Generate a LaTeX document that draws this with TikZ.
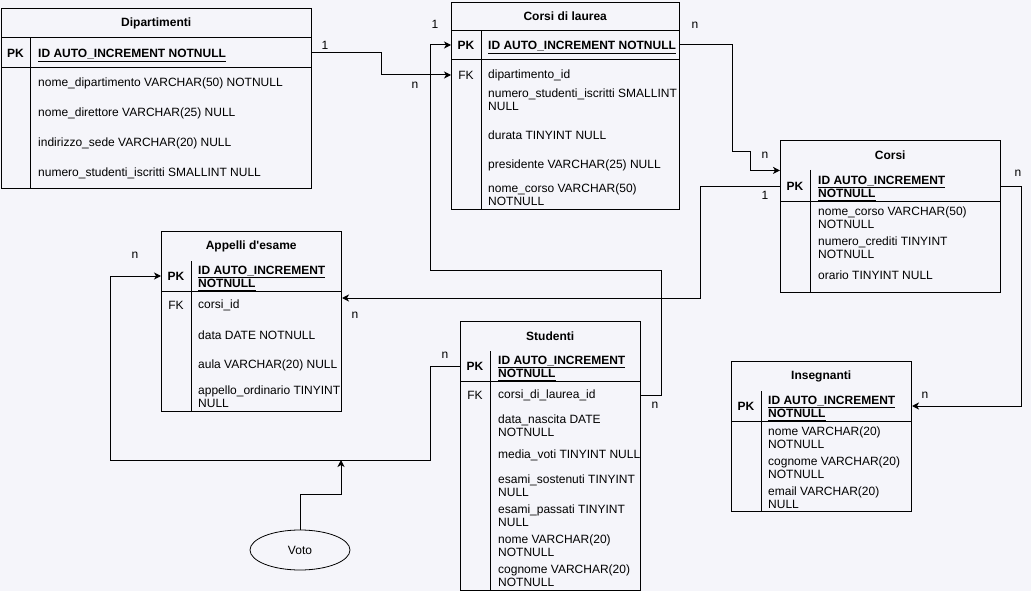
\documentclass[tikz,border=0pt]{standalone}
\usepackage{fontspec}
\setmainfont{Liberation Sans}
\usetikzlibrary{arrows.meta,shapes.geometric}
\definecolor{pagebg}{RGB}{245,245,250}
\newcommand{\ulkey}[1]{\underline{\smash{#1}\vrule height 9pt depth 1.8pt width 0pt}}
\tikzset{
  tab/.style={draw, line width=1pt, anchor=north west, inner sep=0pt},
  ttl/.style={anchor=north west, inner sep=0pt, minimum height=30, font=\bfseries\fontsize{12}{13}\selectfont},
  key/.style={inner sep=0pt, font=\fontsize{12}{13}\selectfont},
  txt/.style={anchor=west, inner sep=0pt, align=left, font=\fontsize{12}{13}\selectfont},
  pk/.style={txt, yshift=-2pt, font=\bfseries\fontsize{12}{13}\selectfont},
  card/.style={inner sep=0pt, font=\fontsize{12}{13}\selectfont},
  link/.style={line width=1pt, -{Stealth[length=7pt,width=7pt,inset=2pt]}},
  sep/.style={line width=1pt},
}
\begin{document}
\begin{tikzpicture}[x=1pt,y=-1pt]
\fill[pagebg] (0,0) rectangle (1031,591);
\useasboundingbox (0,0) rectangle (1031,591);

% Dipartimenti
\node[tab, minimum width=310, minimum height=180] (dip) at (1,8) {};
\node[ttl, minimum width=310] (dipT) at (1,8) {Dipartimenti};
\draw[sep] (1,38) -- (311,38) (1,68) -- (311,68) (30,38) -- (30,188);
\node[key, font=\bfseries\fontsize{12}{13}\selectfont] (dipK) at (15.5,53) {PK};
\node[pk] (dipPK) at (38,53) {\ulkey{ID AUTO\_INCREMENT NOTNULL}};
\foreach \y/\t in {83/{nome\_dipartimento VARCHAR(50) NOTNULL}, 113/{nome\_direttore VARCHAR(25) NULL},
    143/{indirizzo\_sede VARCHAR(20) NULL}, 173/{numero\_studenti\_iscritti SMALLINT NULL}}
  \node[txt] at (38,\y) {\t};

% Corsi di laurea
\node[tab, minimum width=228, minimum height=207] (cl) at (451,2) {};
\node[ttl, minimum width=228] (clT) at (451,1) {Corsi di laurea};
\draw[sep] (451,31) -- (679,31) (451,60) -- (679,60) (481,31) -- (481,209);
\node[key, font=\bfseries\fontsize{12}{13}\selectfont] (clK) at (466,45) {PK};
\node[pk] (clPK) at (488,45) {\ulkey{ID AUTO\_INCREMENT NOTNULL}};
\node[key] (clFK) at (466,75) {FK};
\foreach \y/\t in {75/{dipartimento\_id}, 100/{numero\_studenti\_iscritti SMALLINT\\NULL},
    135/{durata TINYINT NULL}, 165/{presidente VARCHAR(25) NULL}, 195/{nome\_corso VARCHAR(50)\\NOTNULL}}
  \node[txt] at (488,\y) {\t};

% Corsi
\node[tab, minimum width=220, minimum height=152] (co) at (780,140) {};
\node[ttl, minimum width=220] (coT) at (780,140) {Corsi};
\draw[sep] (780,201) -- (1000,201) (810,170) -- (810,292);
\node[key, font=\bfseries\fontsize{12}{13}\selectfont] (coK) at (795,186) {PK};
\node[pk] (coPK) at (818,186) {\ulkey{ID AUTO\_INCREMENT}\\\ulkey{NOTNULL}};
\foreach \y/\t in {218/{nome\_corso VARCHAR(50)\\NOTNULL}, 248/{numero\_crediti TINYINT\\NOTNULL},
    275/{orario TINYINT NULL}}
  \node[txt] at (818,\y) {\t};

% Appelli d'esame
\node[tab, minimum width=180, minimum height=180] (ap) at (161,231) {};
\node[ttl, minimum width=180] (apT) at (161,231) {Appelli d\textquotesingle esame};
\draw[sep] (161,291) -- (341,291) (191,261) -- (191,411);
\node[key, font=\bfseries\fontsize{12}{13}\selectfont] (apK) at (176,276) {PK};
\node[pk] (apPK) at (198,276) {\ulkey{ID AUTO\_INCREMENT}\\\ulkey{NOTNULL}};
\node[key] (apFK) at (176,305) {FK};
\foreach \y/\t in {305/{corsi\_id}, 335/{data DATE NOTNULL}, 365/{aula VARCHAR(20) NULL},
    397/{appello\_ordinario TINYINT\\NULL}}
  \node[txt] at (198,\y) {\t};

% Studenti
\node[tab, minimum width=180, minimum height=269] (st) at (460,321) {};
\node[ttl, minimum width=180] (stT) at (460,321) {Studenti};
\draw[sep] (460,381) -- (640,381) (490,351) -- (490,590);
\node[key, font=\bfseries\fontsize{12}{13}\selectfont] (stK) at (475,366) {PK};
\node[pk] (stPK) at (498,366) {\ulkey{ID AUTO\_INCREMENT}\\\ulkey{NOTNULL}};
\node[key] (stFK) at (475,395) {FK};
\foreach \y/\t in {395/{corsi\_di\_laurea\_id}, 426/{data\_nascita DATE\\NOTNULL}, 455/{media\_voti TINYINT NULL},
    486/{esami\_sostenuti TINYINT\\NULL}, 516/{esami\_passati TINYINT\\NULL}, 546/{nome VARCHAR(20)\\NOTNULL},
    576/{cognome VARCHAR(20)\\NOTNULL}}
  \node[txt] at (498,\y) {\t};

% Insegnanti
\node[tab, minimum width=180, minimum height=150] (in) at (731,361) {};
\node[ttl, minimum width=180] (inT) at (731,361) {Insegnanti};
\draw[sep] (731,421) -- (911,421) (761,391) -- (761,511);
\node[key, font=\bfseries\fontsize{12}{13}\selectfont] (inK) at (746,406) {PK};
\node[pk] (inPK) at (768,406) {\ulkey{ID AUTO\_INCREMENT}\\\ulkey{NOTNULL}};
\foreach \y/\t in {438/{nome VARCHAR(20)\\NOTNULL}, 468/{cognome VARCHAR(20)\\NOTNULL}, 498/{email VARCHAR(20)\\NULL}}
  \node[txt] at (768,\y) {\t};

% Voto
\node[draw, ellipse, line width=0.8pt, minimum width=100, minimum height=40, inner sep=0pt,
  font=\fontsize{12}{13}\selectfont] (voto) at (300,550) {Voto};
\coordinate (votoIn) at (341,460);

% links
\draw[link] (dip.east |- dipK) -- ++(69,0) |- (cl.west |- clFK);
\draw[link] (st.east |- stFK) -- ++(20,0) |- (430,270) |- (cl.west |- clK);
\draw[link] (cl.east |- clK) -- ++(52,0) |- (750,152) |- (coT.south west);
\draw[link] (co.west |- coK) -- ++(-80,0) |- ([yshift=7pt]ap.east |- apFK);
\draw[link] (co.east |- coK) -- ++(20,0) |- (in.east |- inK);
\draw[link] (st.west |- stK) -- ++(-30,0) |- (110,460) |- (ap.west |- apK);
\draw[link] (voto.north) -- ++(0,-35) -| (votoIn);

% cardinalities
\node[card] (c1) at (325,45) {1};
\node[card] (c2) at (415,85) {n};
\node[card] (c3) at (435,24) {1};
\node[card] (c4) at (655,405) {n};
\node[card] (c5) at (695,25) {n};
\node[card] (c6) at (765,155) {n};
\node[card] (c7) at (765,195) {1};
\node[card] (c8) at (355,315) {n};
\node[card] (c9) at (1018,173) {n};
\node[card] (c10) at (925,395) {n};
\node[card] (c11) at (445,355) {n};
\node[card] (c12) at (135,255) {n};
\end{tikzpicture}
\end{document}
